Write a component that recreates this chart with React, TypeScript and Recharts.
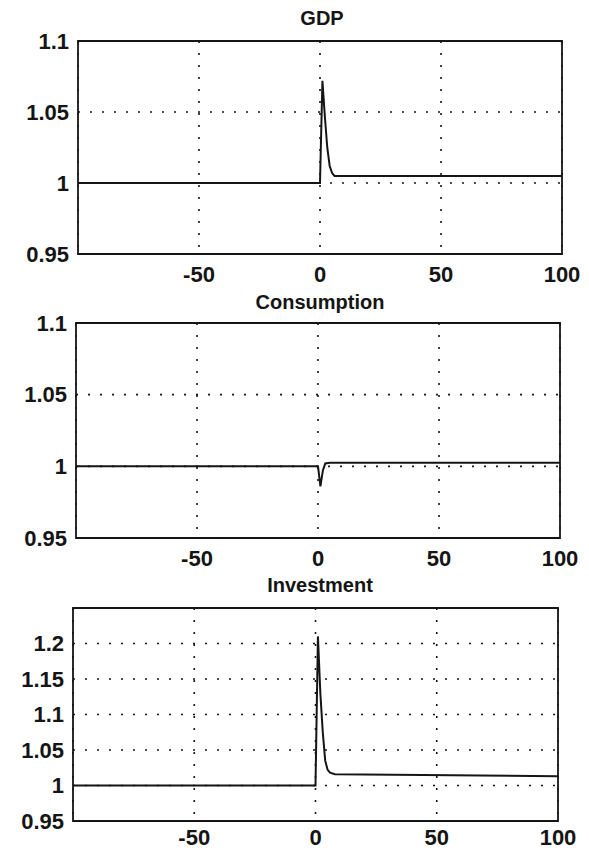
import { LineChart, Line, XAxis, YAxis, CartesianGrid, ReferenceArea } from 'recharts';

// periods (t) and levels relative to steady state
const gdpT = [-100, 0, 1, 2, 3, 4, 5, 6, 8, 100];
const gdpV = [1, 1, 1.072, 1.047, 1.025, 1.012, 1.007, 1.005, 1.005, 1.005];

const consT = [-100, 0, 1, 2, 3, 5, 100];
const consV = [1, 1, 0.986, 0.997, 1.002, 1.0025, 1.0025];

const invT = [-100, 0, 1, 2, 3, 4, 5, 6, 8, 100];
const invV = [1, 1, 1.21, 1.13, 1.075, 1.035, 1.022, 1.018, 1.016, 1.013];

const xTicks = [-50, 0, 50, 100];
const yTicksSmall = [0.95, 1, 1.05, 1.1];
const yTicksInv = [0.95, 1, 1.05, 1.1, 1.15, 1.2];

const FONT = '"Liberation Sans", Arial, sans-serif';
const INK = '#151515';
const W = 589;
const MT = 30; // space above each plot box
const XH = 40; // x axis band

interface PanelProps {
  title: string;
  t: number[];
  v: number[];
  yDomain: [number, number];
  yTicks: number[];
  plotTop: number;
  left: number;
  right: number;
  plotHeight: number;
  titleX: number;
  titleY: number;
  xGap: number;
}

function Panel({ title, t, v, yDomain, yTicks, plotTop, left, right, plotHeight, titleX, titleY, xGap }: PanelProps) {
  const data = t.map((x, i) => ({ t: x, v: v[i] }));
  const tickStyle = { fontSize: 22, fontFamily: FONT, fontWeight: 'bold', fill: INK };
  const h = MT + plotHeight + XH;
  return (
    <>
      <div
        style={{
          position: 'absolute',
          left: titleX - 100,
          top: titleY - 12,
          width: 200,
          textAlign: 'center',
          fontFamily: FONT,
          fontWeight: 'bold',
          fontSize: 20,
          lineHeight: '24px',
          color: INK,
        }}
      >
        {title}
      </div>
      <div style={{ position: 'absolute', left: 0, top: plotTop - MT, width: W, height: h }}>
        <LineChart
          width={W}
          height={h}
          data={data}
          margin={{ top: MT, right: W - right, left: 0, bottom: 0 }}
        >
          <CartesianGrid stroke={INK} strokeWidth={1.6} strokeDasharray="2 10" />
          <XAxis
            dataKey="t"
            type="number"
            domain={[-100, 100]}
            ticks={xTicks}
            allowDataOverflow
            axisLine={false}
            tickLine={false}
            tickSize={0}
            tickMargin={xGap}
            height={XH}
            tick={tickStyle}
            interval={0}
          />
          <YAxis
            type="number"
            domain={yDomain}
            ticks={yTicks}
            allowDataOverflow
            axisLine={false}
            tickLine={false}
            tickSize={0}
            tickMargin={9}
            width={left}
            tick={tickStyle}
            tickFormatter={(n: number) => String(n)}
            interval={0}
          />
          <ReferenceArea
            x1={-100}
            x2={100}
            y1={yDomain[0]}
            y2={yDomain[1]}
            fill="none"
            stroke={INK}
            strokeWidth={1.8}
            fillOpacity={0}
          />
          <Line
            type="linear"
            dataKey="v"
            stroke={INK}
            strokeWidth={2}
            dot={false}
            isAnimationActive={false}
          />
        </LineChart>
      </div>
    </>
  );
}

export default function App() {
  return (
    <div style={{ position: 'absolute', left: 0, top: 0, width: W, height: 853, background: '#fff', overflow: 'hidden' }}>
      <Panel title="GDP" t={gdpT} v={gdpV} yDomain={[0.95, 1.1]} yTicks={yTicksSmall}
        plotTop={41} left={78} right={562} plotHeight={213} titleX={322} titleY={18} xGap={12} />
      <Panel title="Consumption" t={consT} v={consV} yDomain={[0.95, 1.1]} yTicks={yTicksSmall}
        plotTop={323} left={76} right={560} plotHeight={215} titleX={320} titleY={302} xGap={12} />
      <Panel title="Investment" t={invT} v={invV} yDomain={[0.95, 1.25]} yTicks={yTicksInv}
        plotTop={608} left={73} right={558} plotHeight={213} titleX={320} titleY={585} xGap={8} />
    </div>
  );
}
